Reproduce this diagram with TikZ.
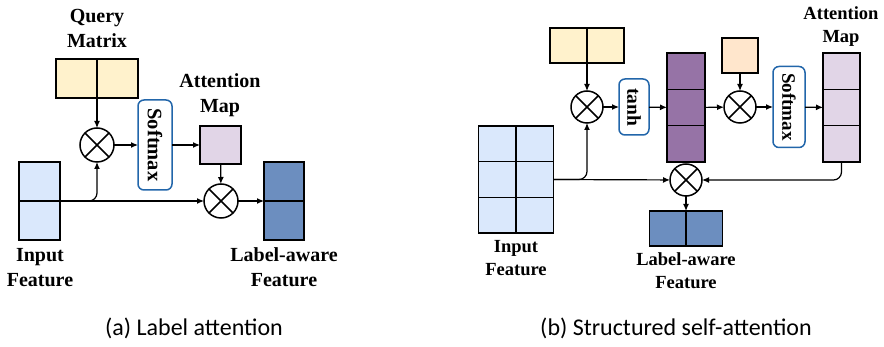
\documentclass[tikz,border=0pt]{standalone}
\usepackage{fontspec}
\setmainfont{Liberation Serif}
\newfontfamily\capfont{Carlito}
\usepackage{tikz}
\usetikzlibrary{positioning, arrows.meta}
\definecolor{inblue}{HTML}{DAE8FC}
\definecolor{outblue}{HTML}{6C8EBF}
\definecolor{qyellow}{HTML}{FFF2CC}
\definecolor{qpeach}{HTML}{FFE6CC}
\definecolor{mapviolet}{HTML}{E1D5E7}
\definecolor{hidviolet}{HTML}{9673A6}
\definecolor{fnblue}{HTML}{2266AA}

\begin{document}
\begin{tikzpicture}[x=1pt, y=1pt, ->, >={Latex[length=7pt,width=6pt]}, line width=1.2pt]
\tikzstyle{cell}=[draw=black, line width=1.5pt, inner sep=0pt, outer sep=0pt]
\tikzstyle{mult}=[circle, draw=black, line width=1.5pt, fill=white, inner sep=0pt, outer sep=0pt]
\tikzstyle{func}=[draw=fnblue, line width=1.5pt, rounded corners=6pt, fill=white, inner sep=0pt, outer sep=0pt]
\tikzstyle{lbl}=[align=center, anchor=base, inner sep=0pt, font=\bfseries\fontsize{20}{25}\selectfont]
\tikzstyle{lblb}=[align=center, anchor=base, inner sep=0pt, font=\bfseries\fontsize{18.5}{23.5}\selectfont]
\useasboundingbox (0,0) rectangle (884,-347);

% (a) label attention
\node[cell, fill=qyellow, minimum width=41pt, minimum height=39pt] (qa1) at (76.5,-78.5) {};
\node[cell, fill=qyellow, minimum width=41pt, minimum height=39pt, right=0pt of qa1] (qa2) {};
\node[mult, minimum size=34pt] (ma1) at (97,-145) {};
\node[func, minimum width=34pt, minimum height=90pt, right=24pt of ma1] (sa) {\rotatebox{-90}{\bfseries\fontsize{20.5}{24}\selectfont Softmax}};
\node[cell, fill=mapviolet, minimum width=41pt, minimum height=38pt, right=28pt of sa] (am) {};
\node[mult, minimum size=34pt] (ma2) at (221,-201) {};
\node[cell, fill=inblue, minimum width=41pt, minimum height=39pt] (ia1) at (39.5,-181.5) {};
\node[cell, fill=inblue, minimum width=41pt, minimum height=39pt, below=0pt of ia1] (ia2) {};
\node[cell, fill=outblue, minimum width=40pt, minimum height=39pt] (oa1) at (284,-181.5) {};
\node[cell, fill=outblue, minimum width=40pt, minimum height=39pt, below=0pt of oa1] (oa2) {};

\node[lbl] (qlab) at (97,-48) {Query\\Matrix};
\node[lbl] (amlab) at (220,-113) {Attention\\Map};
\node[lbl] (inlab) at (40,-287) {Input\\Feature};
\node[lbl] (outlab) at (284,-287) {Label-aware\\Feature};

\draw (qa1.south east) -- (ma1);
\draw (ma1) -- (sa);
\draw (sa) -- (am);
\draw (am) -- (ma2);
\draw (ia1.south east) -- (ma2);
\draw[rounded corners=8pt] (ia1.south east) -| (ma1);
\draw (ma2) -- (oa1.south west);

% (b) structured self-attention
\node[cell, fill=qyellow, minimum width=37pt, minimum height=35pt] (qb1) at (568.5,-45.5) {};
\node[cell, fill=qyellow, minimum width=37pt, minimum height=35pt, right=0pt of qb1] (qb2) {};
\node[mult, minimum size=32pt] (mb1) at (587,-107) {};
\node[func, minimum width=30pt, minimum height=56pt, right=16pt of mb1] (tb) {\rotatebox{-90}{\bfseries\fontsize{19.5}{22}\selectfont tanh}};
\node[cell, fill=hidviolet, minimum width=38pt, minimum height=36.3pt] (pb1) at (686,-71.3) {};
\node[cell, fill=hidviolet, minimum width=38pt, minimum height=36.3pt, below=0pt of pb1] (pb2) {};
\node[cell, fill=hidviolet, minimum width=38pt, minimum height=36.3pt, below=0pt of pb2] (pb3) {};
\node[mult, minimum size=32pt] (mb2) at (740,-107) {};
\node[cell, fill=qpeach, minimum width=36pt, minimum height=35pt, above=18pt of mb2] (ob) {};
\node[func, minimum width=32pt, minimum height=81pt, right=17pt of mb2] (sb) {\rotatebox{-90}{\bfseries\fontsize{19}{22}\selectfont Softmax}};
\node[cell, fill=mapviolet, minimum width=37pt, minimum height=36.3pt] (ab1) at (841.5,-71.3) {};
\node[cell, fill=mapviolet, minimum width=37pt, minimum height=36.3pt, below=0pt of ab1] (ab2) {};
\node[cell, fill=mapviolet, minimum width=37pt, minimum height=36.3pt, below=0pt of ab2] (ab3) {};
\node[cell, fill=inblue, minimum width=37.5pt, minimum height=35.7pt] (ib11) at (497,-143.8) {};
\node[cell, fill=inblue, minimum width=37.5pt, minimum height=35.7pt, right=0pt of ib11] (ib12) {};
\node[cell, fill=inblue, minimum width=37.5pt, minimum height=35.7pt, below=0pt of ib11] (ib21) {};
\node[cell, fill=inblue, minimum width=37.5pt, minimum height=35.7pt, right=0pt of ib21] (ib22) {};
\node[cell, fill=inblue, minimum width=37.5pt, minimum height=35.7pt, below=0pt of ib21] (ib31) {};
\node[cell, fill=inblue, minimum width=37.5pt, minimum height=35.7pt, right=0pt of ib31] (ib32) {};
\node[mult, minimum size=32pt] (mb3) at (686,-180) {};
\node[cell, fill=outblue, minimum width=36.5pt, minimum height=35pt] (lb1) at (667.75,-228.5) {};
\node[cell, fill=outblue, minimum width=36.5pt, minimum height=35pt, right=0pt of lb1] (lb2) {};

\node[lblb] (mblab) at (841,-43) {Attention\\Map};
\node[lblb] (iblab) at (516,-276) {Input\\Feature};
\node[lblb] (lblab) at (686,-289) {Label-aware\\Feature};

\draw (qb1.south east) -- (mb1);
\draw (mb1) -- (tb);
\draw (tb) -- (pb2);
\draw (pb2) -- (mb2);
\draw (ob) -- (mb2);
\draw (mb2) -- (sb);
\draw (sb) -- (ab2);
\draw (ib22.east) -- (mb3);
\draw[rounded corners=8pt] (ib22.east) -| (mb1);
\draw[rounded corners=8pt] (ab3.south) |- (mb3);
\draw (mb3) -- (lb1.north east);

% crosses in the product circles
\foreach \m in {ma1, ma2, mb1, mb2, mb3}
  \draw[-, line width=1.5pt] (\m.north west) -- (\m.south east) (\m.north east) -- (\m.south west);

% captions
\node[anchor=base, inner sep=0pt, font=\capfont\fontsize{24}{28}\selectfont] (capa) at (194,-336) {(a) Label attention};
\node[anchor=base, inner sep=0pt, font=\capfont\fontsize{24}{28}\selectfont] (capb) at (676,-336) {(b) Structured self-attention};
\end{tikzpicture}
\end{document}
